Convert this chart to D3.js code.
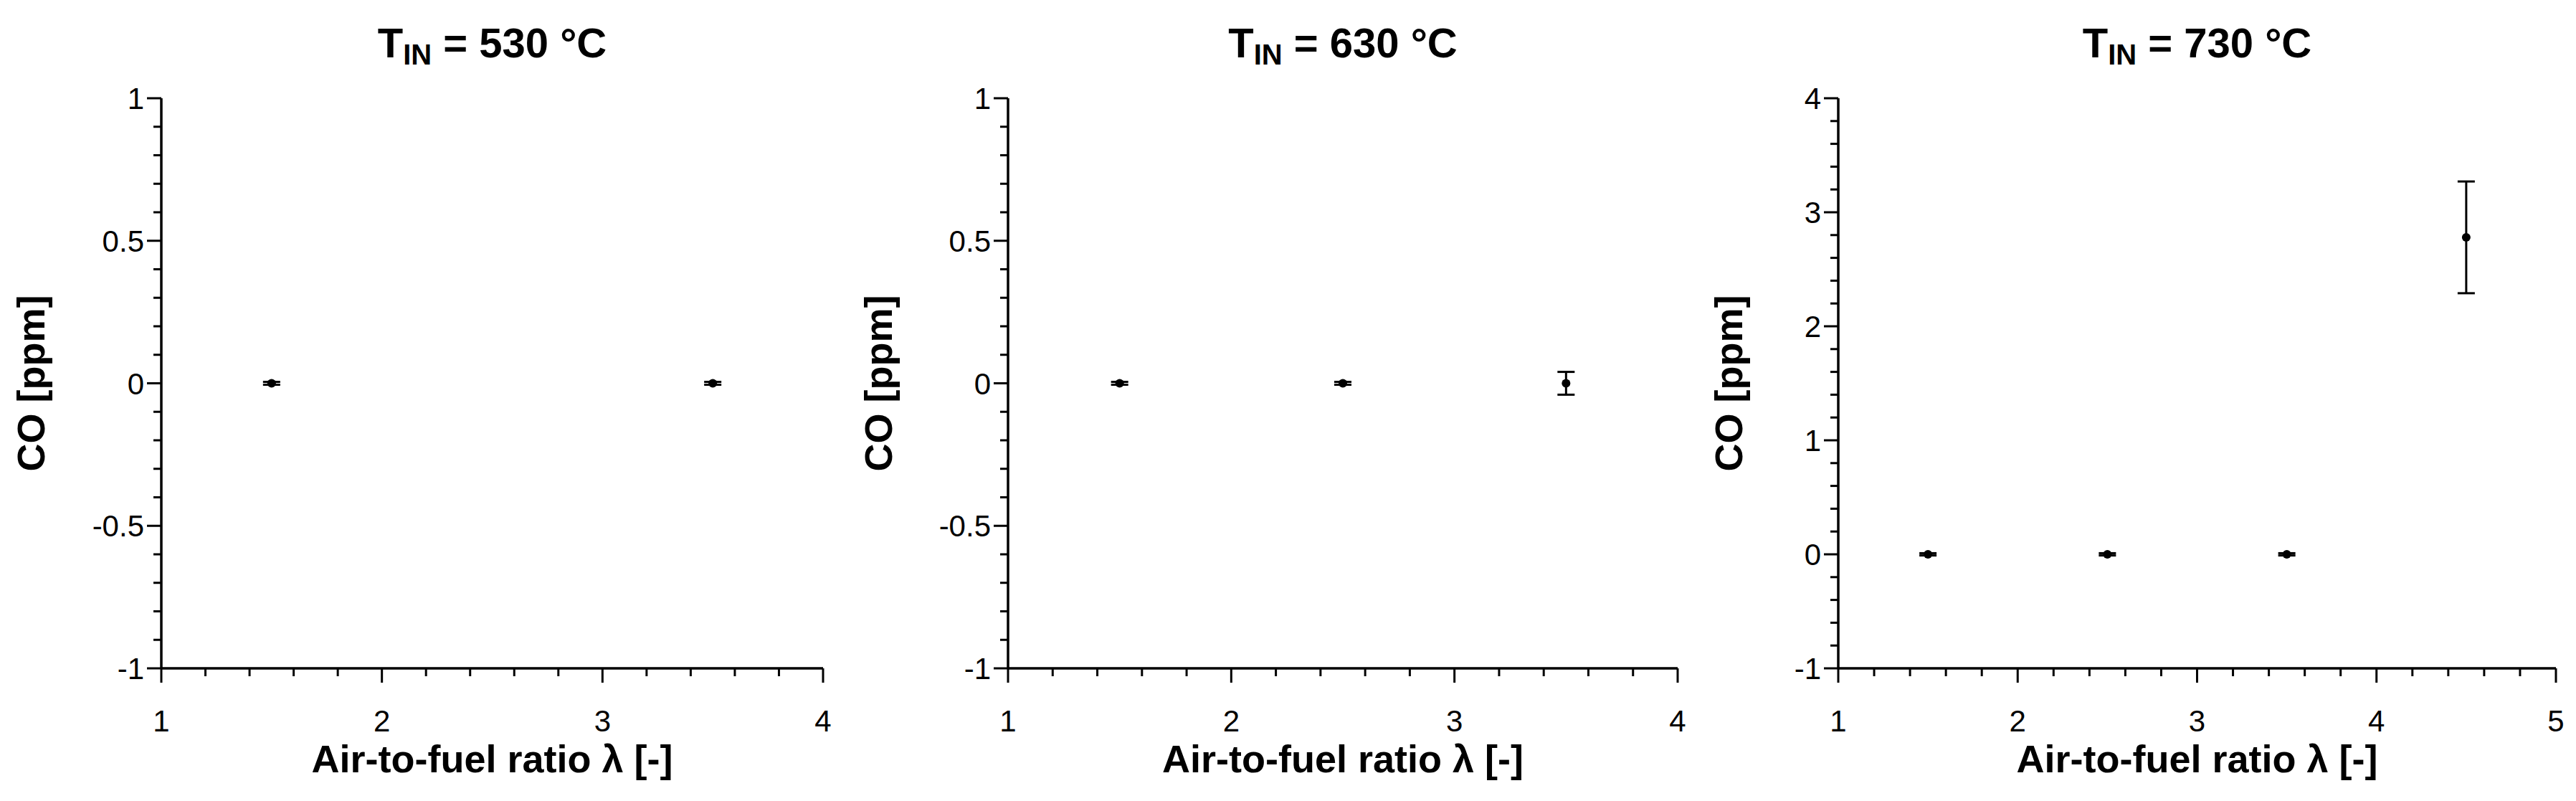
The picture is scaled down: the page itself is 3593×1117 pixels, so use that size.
<!DOCTYPE html><html><head><meta charset="utf-8">
<script src="https://cdn.jsdelivr.net/npm/d3@7"></script>
<style>body{margin:0;background:#fff}</style></head><body>
<script>
const titles = ["530", "630", "730"];
const xDomains = [[1,4],[1,4],[1,5]];
const yDomains = [[-1,1],[-1,1],[-1,4]];
const xTickLabels = [[1,2,3,4],[1,2,3,4],[1,2,3,4,5]];
const yTickLabels = [[-1,-0.5,0,0.5,1],[-1,-0.5,0,0.5,1],[-1,0,1,2,3,4]];
const yMinorStep = [0.1,0.1,0.2];
const lambdaVals = [[1.5,3.5],[1.5,2.5,3.5],[1.5,2.5,3.5,4.5]];
const coVals = [[0,0],[0,0,0],[0,0,0,2.78]];
const coErr = [[0.005,0.005],[0.005,0.005,0.04],[0.01,0.01,0.01,0.49]];
const lefts = [225,1406,2564], rights = [1148,2340,3565], labelX = [62,1244,2430];
const plotTop = 137, plotBottom = 932;
const svg = d3.select("body").append("svg").attr("width",3593).attr("height",1117)
  .style("font-family","'Liberation Sans',Arial,sans-serif");
titles.forEach((t,i)=>{
  const x = d3.scaleLinear().domain(xDomains[i]).range([lefts[i],rights[i]]);
  const y = d3.scaleLinear().domain(yDomains[i]).range([plotBottom,plotTop]);
  const g = svg.append("g");
  const [x0,x1] = xDomains[i], [y0,y1] = yDomains[i];
  const xMinor = d3.range(x0, x1+1e-9, 0.2), yMinor = d3.range(y0, y1+1e-9, yMinorStep[i]);
  const isMajor = (v,arr)=>arr.some(a=>Math.abs(a-v)<1e-6);
  g.selectAll(".xt").data(xMinor).join("line").attr("x1",d=>x(d)).attr("x2",d=>x(d))
   .attr("y1",plotBottom).attr("y2",d=>plotBottom+(isMajor(d,xTickLabels[i])?20:11)).attr("stroke","#000").attr("stroke-width",3);
  g.selectAll(".yt").data(yMinor).join("line").attr("y1",d=>y(d)).attr("y2",d=>y(d))
   .attr("x1",lefts[i]).attr("x2",d=>lefts[i]-(isMajor(d,yTickLabels[i])?20:11)).attr("stroke","#000").attr("stroke-width",3);
  g.append("line").attr("x1",lefts[i]).attr("x2",rights[i]).attr("y1",plotBottom).attr("y2",plotBottom).attr("stroke","#000").attr("stroke-width",3.5);
  g.append("line").attr("x1",lefts[i]).attr("x2",lefts[i]).attr("y1",plotTop).attr("y2",plotBottom).attr("stroke","#000").attr("stroke-width",3.5);
  g.selectAll(".xl").data(xTickLabels[i]).join("text").attr("x",d=>x(d)).attr("y",1020)
   .attr("text-anchor","middle").attr("font-size",42).text(d=>d);
  g.selectAll(".yl").data(yTickLabels[i]).join("text").attr("x",lefts[i]-24).attr("y",d=>y(d)+15)
   .attr("text-anchor","end").attr("font-size",42).text(d=>d);
  g.append("text").attr("x",(lefts[i]+rights[i])/2).attr("y",1077).attr("text-anchor","middle")
   .attr("font-size",54).attr("font-weight","bold").text("Air-to-fuel ratio λ [-]");
  g.append("text").attr("transform",`translate(${labelX[i]},${(plotTop+plotBottom)/2}) rotate(-90)`).attr("text-anchor","middle")
   .attr("font-size",54).attr("font-weight","bold").text("CO [ppm]");
  const tt = g.append("text").attr("x",(lefts[i]+rights[i])/2).attr("y",80).attr("text-anchor","middle")
   .attr("font-size",58).attr("font-weight","bold");
  tt.append("tspan").text("T");
  tt.append("tspan").attr("font-size",40).attr("dy",10).text("IN");
  tt.append("tspan").attr("dy",-10).text(" = "+t+" °C");
  lambdaVals[i].forEach((l,j)=>{
    const cx = x(l), v = coVals[i][j], e = coErr[i][j];
    g.append("line").attr("x1",cx).attr("x2",cx).attr("y1",y(v-e)).attr("y2",y(v+e)).attr("stroke","#000").attr("stroke-width",3);
    [v-e,v+e].forEach(c=>g.append("line").attr("x1",cx-12).attr("x2",cx+12).attr("y1",y(c)).attr("y2",y(c)).attr("stroke","#000").attr("stroke-width",3));
    g.append("circle").attr("cx",cx).attr("cy",y(v)).attr("r",6).attr("fill","#000");
  });
});
</script></body></html>
